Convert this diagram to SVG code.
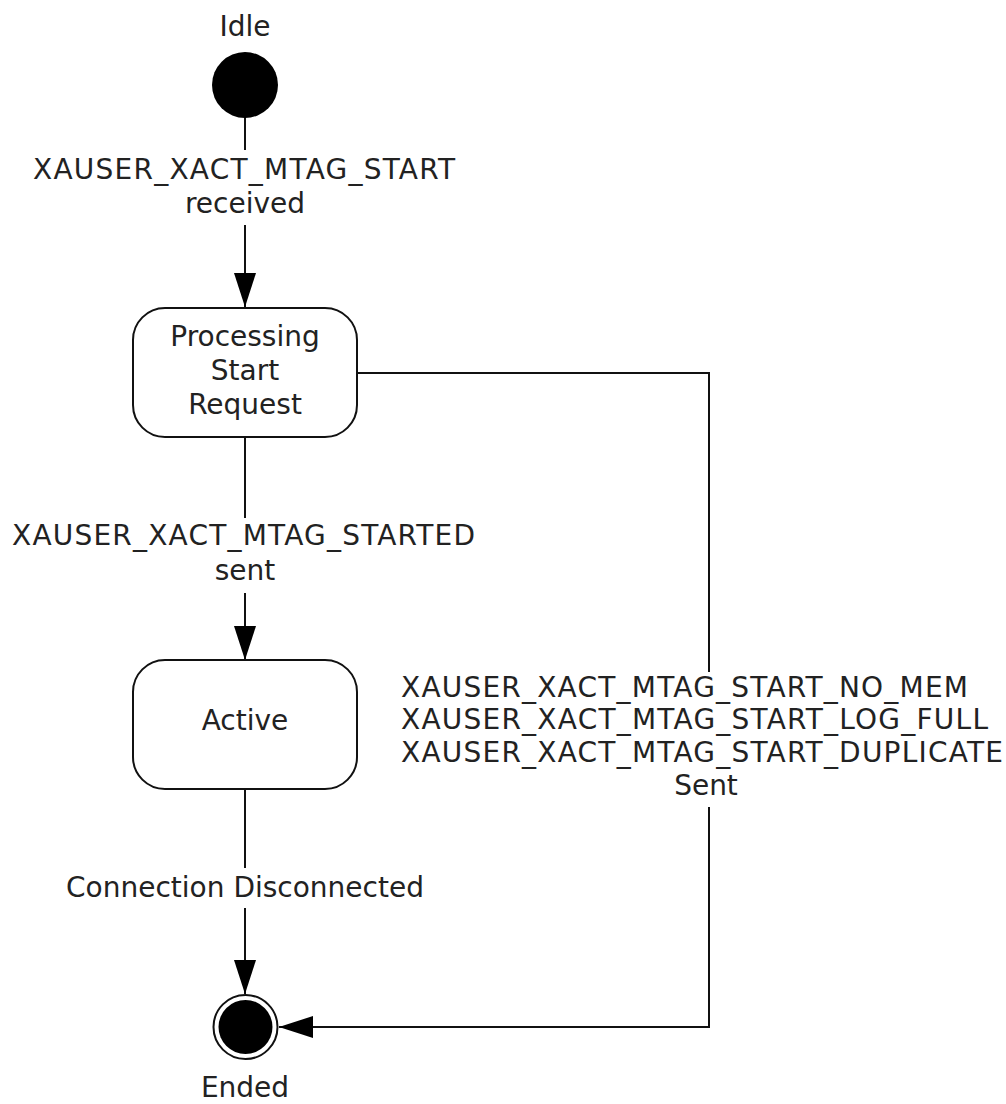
<svg xmlns="http://www.w3.org/2000/svg" width="1006" height="1104" viewBox="0 0 1006 1104">
<style>
text{font-family:"DejaVu Sans",Verdana,sans-serif;font-size:28px;fill:#222;text-anchor:middle}
text.l{text-anchor:start}
.ln{fill:none;stroke:#111;stroke-width:2}
.box{fill:#fff;stroke:#111;stroke-width:2}
</style>
<defs>
<marker id="ah" markerWidth="34" markerHeight="22" refX="34" refY="11" orient="auto" markerUnits="userSpaceOnUse">
<path d="M0,0 L34,11 L0,22 Z" fill="#000"/>
</marker>
</defs>
<g id="connectors">
<line class="ln" x1="245" y1="117" x2="245" y2="307" marker-end="url(#ah)"/>
<line class="ln" x1="245" y1="437" x2="245" y2="660" marker-end="url(#ah)"/>
<line class="ln" x1="245" y1="789" x2="245" y2="994" marker-end="url(#ah)"/>
<polyline class="ln" points="357,373 709,373 709,1027 279,1027" marker-end="url(#ah)"/>
<rect x="20" y="150" width="450" height="75" fill="#fff"/>
<text x="244" y="179" textLength="422" lengthAdjust="spacing">XAUSER_XACT_MTAG_START</text>
<text x="245" y="213">received</text>
<rect x="8" y="518" width="474" height="75" fill="#fff"/>
<text x="243.5" y="545" textLength="463" lengthAdjust="spacing">XAUSER_XACT_MTAG_STARTED</text>
<text x="245" y="580">sent</text>
<rect x="60" y="868" width="370" height="40" fill="#fff"/>
<text x="245" y="897">Connection Disconnected</text>
<rect x="396" y="672" width="608" height="135" fill="#fff"/>
<text class="l" x="401" y="697" textLength="567" lengthAdjust="spacing">XAUSER_XACT_MTAG_START_NO_MEM</text>
<text class="l" x="401" y="729" textLength="587" lengthAdjust="spacing">XAUSER_XACT_MTAG_START_LOG_FULL</text>
<text class="l" x="401" y="762" textLength="602" lengthAdjust="spacing">XAUSER_XACT_MTAG_START_DUPLICATE</text>
<text x="706" y="795">Sent</text>
</g>
<g id="idle">
<text x="245" y="36">Idle</text>
<circle cx="245" cy="85" r="33" fill="#000"/>
</g>
<g id="processing">
<rect class="box" x="133" y="308" width="224" height="129" rx="32"/>
<text x="245" y="346">Processing</text>
<text x="245" y="380">Start</text>
<text x="245" y="414">Request</text>
</g>
<g id="active">
<rect class="box" x="133" y="660" width="224" height="129" rx="32"/>
<text x="245" y="730">Active</text>
</g>
<g id="ended">
<circle cx="245.5" cy="1027" r="32" fill="#fff" stroke="#111" stroke-width="2"/>
<circle cx="245.5" cy="1027" r="27" fill="#000"/>
<text x="245" y="1097">Ended</text>
</g>
</svg>
